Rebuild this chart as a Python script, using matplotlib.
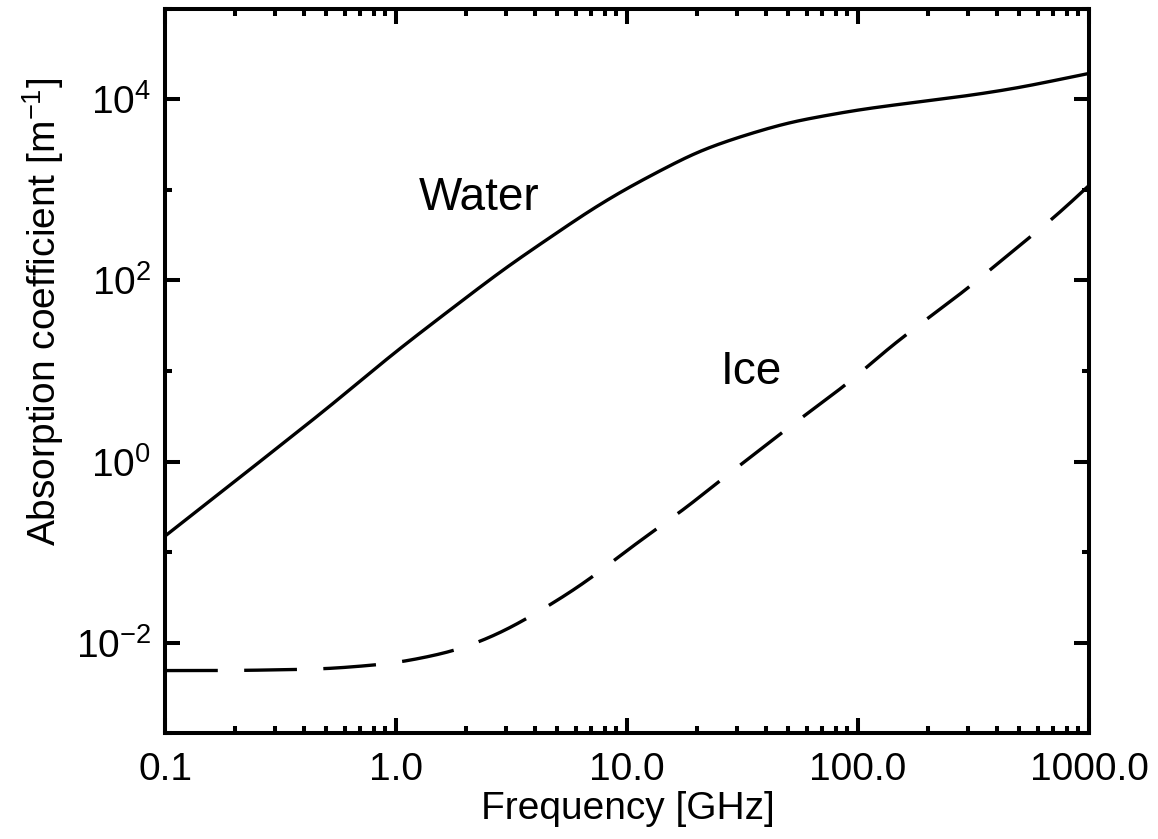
import numpy as np
import matplotlib
matplotlib.use('Agg')
import matplotlib.pyplot as plt
from matplotlib.ticker import FixedLocator, FuncFormatter, NullFormatter

plt.rcParams['font.family'] = ['Liberation Sans', 'DejaVu Sans']
plt.rcParams['mathtext.fontset'] = 'custom'
plt.rcParams['mathtext.rm'] = 'Liberation Sans'
plt.rcParams['mathtext.it'] = 'Liberation Sans'
plt.rcParams['lines.scale_dashes'] = False

# values (frequency in GHz, absorption in 1/m)
water_freq = [0.1, 0.2, 0.5, 1.0, 2.0, 3.0, 5.0, 7.0, 10.0, 20.0, 30.0, 50.0,
              100.0, 200.0, 300.0, 500.0, 1000.0]
water_abs = [0.15, 0.6, 3.8, 16.5, 64, 140, 340, 610, 1050, 2650, 3800, 5600,
             7700, 9700, 11000, 13500, 19400]

ice_freq = [0.1, 0.2, 0.5, 1.0, 1.75, 2.0, 3.0, 3.56, 5.0, 7.0, 10.0, 13.0,
            20.0, 24.0, 30.0, 45.0, 74.0, 100.0, 129.0, 200.0, 300.0, 437.0,
            700.0, 1000.0]
ice_abs = [0.0049, 0.0049, 0.0051, 0.0059, 0.0079, 0.0088, 0.0135, 0.0175,
           0.029, 0.051, 0.105, 0.17, 0.37, 0.57, 0.85, 1.94, 5.0, 8.8, 16.4,
           38, 82, 184, 480, 1120]

x_ticks = [0.1, 1.0, 10.0, 100.0, 1000.0]
x_labels = ['0.1', '1.0', '10.0', '100.0', '1000.0']
y_major = [1e-2, 1e0, 1e2, 1e4]
y_minor = [1e-3, 1e-1, 1e1, 1e3, 1e5]


def smooth(f, a, sigma=0.08):
    # gaussian smoothing of the read points in log-log space
    lf = np.log10(f)
    la = np.log10(a)
    step = 0.005
    xs = np.arange(lf[0], lf[-1] + step / 2, step)
    ys = np.interp(xs, lf, la)
    n = int(4 * sigma / step)
    s0 = (ys[1] - ys[0]) / step
    s1 = (ys[-1] - ys[-2]) / step
    left = ys[0] - s0 * step * np.arange(n, 0, -1)
    right = ys[-1] + s1 * step * np.arange(1, n + 1)
    pad = np.concatenate([left, ys, right])
    k = np.exp(-0.5 * (np.arange(-n, n + 1) * step / sigma) ** 2)
    k /= k.sum()
    ys2 = np.convolve(pad, k, mode='valid')
    return 10 ** xs, 10 ** ys2


fig = plt.figure(figsize=(11.58, 8.39), dpi=100)
ax = fig.add_axes([0.1425, 0.1263, 0.7979, 0.863])

wx, wy = smooth(water_freq, water_abs)
ix, iy = smooth(ice_freq, ice_abs)

ax.plot(wx, wy, color='black', lw=2.4, solid_capstyle='butt')
ax.plot(ix, iy, color='black', lw=2.4, dashes=(38, 19), dash_capstyle='butt')

ax.set_xscale('log')
ax.set_yscale('log')
ax.set_xlim(0.1, 1000)
ax.set_ylim(1e-3, 1e5)

ax.xaxis.set_major_locator(FixedLocator(x_ticks))
ax.xaxis.set_major_formatter(FuncFormatter(lambda v, p: x_labels[p] if p is not None and p < len(x_labels) else ''))
ax.xaxis.set_minor_locator(FixedLocator([m * 10.0 ** e for e in range(-1, 3) for m in range(2, 10)]))
ax.xaxis.set_minor_formatter(NullFormatter())

ax.yaxis.set_major_locator(FixedLocator(y_major))
ax.yaxis.set_major_formatter(FuncFormatter(lambda v, p: r'$\mathregular{10^{%d}}$' % round(np.log10(v))))
ax.yaxis.set_minor_locator(FixedLocator(y_minor))
ax.yaxis.set_minor_formatter(NullFormatter())

ax.tick_params(which='both', direction='in', top=True, right=True, width=2.9, labelsize=28)
ax.tick_params(axis='y', pad=10)
ax.tick_params(axis='x', pad=14)
ax.tick_params(which='major', length=11)
ax.tick_params(which='minor', length=5)
for s in ax.spines.values():
    s.set_linewidth(2.9)

ax.text(0.5005, -0.105, 'Frequency [GHz]', transform=ax.transAxes, fontsize=28,
        ha='center', va='center')
ax.text(-0.1317, 0.5815, r'Absorption coefficient [m$^{\mathregular{-1}}$]', transform=ax.transAxes,
        fontsize=28, rotation=90, ha='center', va='center')

ax.text(0.340, 0.739, 'Water', transform=ax.transAxes, fontsize=33, ha='center', va='center')
ax.text(0.635, 0.499, 'Ice', transform=ax.transAxes, fontsize=33, ha='center', va='center')

fig.savefig('out.png', dpi=100)
